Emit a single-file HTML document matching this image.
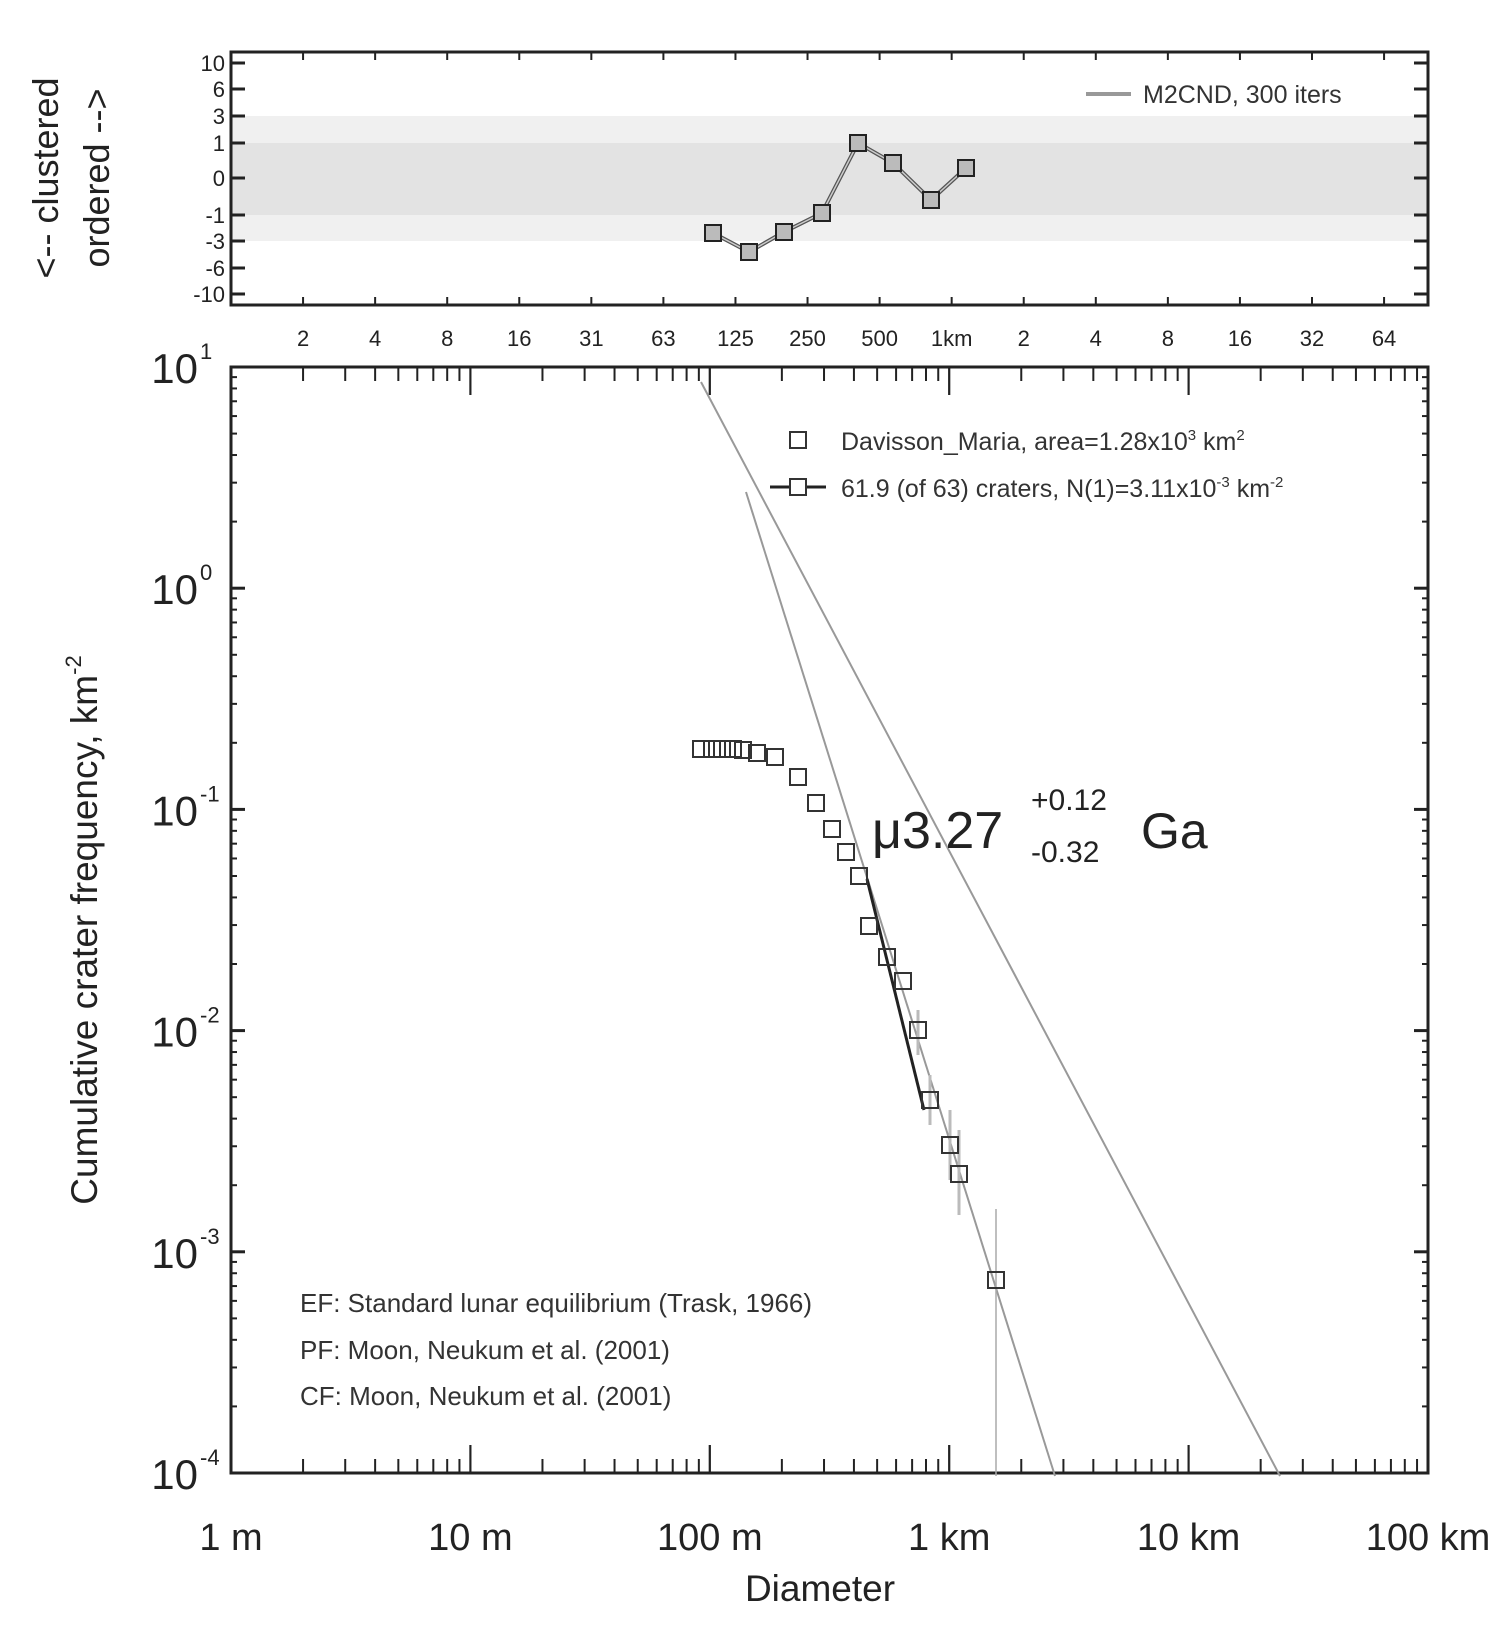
<!DOCTYPE html>
<html><head><meta charset="utf-8"><style>
html,body{margin:0;padding:0;background:#fff}
svg{display:block;font-family:"Liberation Sans",sans-serif}
</style></head><body>
<svg id="s" width="1508" height="1636" viewBox="0 0 1508 1636" xmlns="http://www.w3.org/2000/svg">
<rect width="1508" height="1636" fill="#fff"/>
<rect x="231" y="116" width="1197" height="125" fill="#f0f0f0"/>
<rect x="231" y="143" width="1197" height="72" fill="#e3e3e3"/>
<g id="g"></g>
<line x1="1086" y1="94" x2="1131" y2="94" stroke="#999" stroke-width="4"/>
<text x="1143" y="103" font-size="25" fill="#333">M2CND, 300 iters</text>
<text transform="translate(58,178) rotate(-90)" text-anchor="middle" font-size="36" fill="#222">&lt;-- clustered</text>
<text transform="translate(109,178) rotate(-90)" text-anchor="middle" font-size="36" fill="#222">ordered --&gt;</text>
<rect x="790" y="432" width="16" height="16" fill="none" stroke="#333" stroke-width="2"/>
<text x="841" y="450" font-size="25" fill="#333">Davisson_Maria, area=1.28x10<tspan dy="-10" font-size="15">3</tspan><tspan dy="10"> km</tspan><tspan dy="-10" font-size="15">2</tspan></text>
<line x1="770" y1="487" x2="826" y2="487" stroke="#222" stroke-width="3"/>
<rect x="790" y="479" width="16" height="16" fill="#fff" stroke="#333" stroke-width="2"/>
<text x="841" y="497" font-size="25" fill="#333">61.9 (of 63) craters, N(1)=3.11x10<tspan dy="-10" font-size="15">-3</tspan><tspan dy="10"> km</tspan><tspan dy="-10" font-size="15">-2</tspan></text>
<text x="872" y="848" font-size="52" fill="#222">μ3.27</text>
<text x="1031" y="810" font-size="30" fill="#222">+0.12</text>
<text x="1031" y="862" font-size="30" fill="#222">-0.32</text>
<text x="1141" y="848" font-size="50" fill="#222">Ga</text>
<text x="300" y="1312" font-size="26" fill="#333">EF: Standard lunar equilibrium (Trask, 1966)</text>
<text x="300" y="1359" font-size="26" fill="#333">PF: Moon, Neukum et al. (2001)</text>
<text x="300" y="1405" font-size="26" fill="#333">CF: Moon, Neukum et al. (2001)</text>
<text x="820" y="1601" text-anchor="middle" font-size="37" fill="#222">Diameter</text>
<text transform="translate(97,930) rotate(-90)" text-anchor="middle" font-size="37" fill="#222">Cumulative crater frequency, km<tspan dy="-16" font-size="22">-2</tspan></text>
</svg>
<script>
var g=document.getElementById('g'),h='';
function L(a,b,c,d,col,w){h+='<line x1="'+a+'" y1="'+b+'" x2="'+c+'" y2="'+d+'" stroke="'+(col||'#222')+'" stroke-width="'+(w||2)+'"/>';}
function T(x,y,s,fs,anc){h+='<text x="'+x+'" y="'+y+'" font-size="'+fs+'" text-anchor="'+(anc||'middle')+'" fill="#222">'+s+'</text>';}
var X0=231,DX=239.4,Y0=367,DY=221.2;
function X(d){return X0+DX*Math.log10(d);}
h+='<rect x="231" y="52" width="1197" height="253" fill="none" stroke="#222" stroke-width="3"/>';
var yt=[[10,63],[6,89],[3,116],[1,143],[0,178],[-1,215],[-3,241],[-6,268],[-10,294]];
yt.forEach(function(p){L(231,p[1],245,p[1],'#222',3);L(1414,p[1],1428,p[1],'#222',3);T(225,p[1]+8,p[0],22,'end');});
var tl=['2','4','8','16','31','63','125','250','500','1km','2','4','8','16','32','64'];
for(var i=0;i<=16;i++){var x=X(Math.pow(2,i));if(x<1428){L(x,52,x,60);L(x,297,x,305);}}
tl.forEach(function(s,i){T(X(Math.pow(2,i+1)),346,s,22);});
var tp=[[713,233],[749,252],[784,232],[822,213],[858,143],[893,163],[931,200],[966,168]];
var pts=tp.map(function(p){return p.join(',')}).join(' ');
h+='<polyline points="'+pts+'" fill="none" stroke="#555" stroke-width="4"/>';
h+='<polyline points="'+pts+'" fill="none" stroke="#ccc" stroke-width="1.5"/>';
tp.forEach(function(p){h+='<rect x="'+(p[0]-8)+'" y="'+(p[1]-8)+'" width="16" height="16" fill="#bbb" stroke="#222" stroke-width="2"/>';});
h+='<rect x="231" y="367" width="1197" height="1106" fill="none" stroke="#222" stroke-width="3"/>';
for(var dec=0;dec<5;dec++)for(var k=1;k<=10;k++){var x=X0+DX*(dec+Math.log10(k));if(x>1428)continue;var len=(k==10||k==1)?28:14;L(x,1473,x,1473-len);L(x,367,x,367+len);}
var xl=['1 m','10 m','100 m','1 km','10 km','100 km'];
xl.forEach(function(s,i){T(X0+DX*i,1550,s,38);});
for(var e=0;e<=5;e++){var y=Y0+DY*e;L(231,y,245,y,'#222',3);L(1414,y,1428,y,'#222',3);
 for(var k=2;k<10&&e<5;k++){var yy=Y0+DY*(e+1-Math.log10(k));L(231,yy,237,yy);L(1422,yy,1428,yy);}
 h+='<text x="198" y="'+(y+16)+'" font-size="42" text-anchor="end" fill="#222">10</text><text x="200" y="'+(y-8)+'" font-size="22" fill="#222">'+(1-e)+'</text>';}
L(701,382,1280,1476,'#999',2);
L(746,492,1055,1476,'#999',2);
L(996,1209,996,1476,'#aaa',1.5);
[[918,1010,1055],[930,1075,1125],[950,1110,1180],[959,1130,1215]].forEach(function(p){L(p[0],p[1],p[0],p[2],'#bbb',3);});
L(867,879,924,1110,'#222',3);
var mp=[[701,749],[712,749],[722,749],[733,749],[743,750],[757,753],[775,757],[798,777],[816,803],[832,829],[846,852],[859,876],[869,926],[887,957],[903,981],[918,1030],[930,1100],[950,1145],[959,1174],[996,1280]];
mp.forEach(function(p){h+='<rect x="'+(p[0]-8)+'" y="'+(p[1]-8)+'" width="16" height="16" fill="none" stroke="#333" stroke-width="2"/>';});
g.innerHTML=h;
</script>
</body></html>
